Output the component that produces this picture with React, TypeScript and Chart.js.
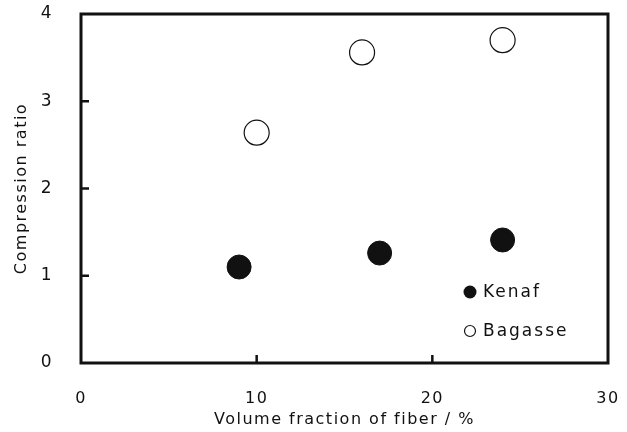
import React, { useEffect, useRef } from "react";
import { Chart, registerables } from "chart.js";

Chart.register(...registerables);

const kenafX = [9, 17, 24];
const kenafY = [1.1, 1.26, 1.41];
const bagasseX = [10, 16, 24];
const bagasseY = [2.64, 3.56, 3.7];
const seriesNames = ["Kenaf", "Bagasse"];
const xInnerTicks = [10, 20];
const yInnerTicks = [1, 2, 3];
const xTitle = "Volume fraction of fiber / %";
const yTitle = "Compression ratio";

const FONT = "'DejaVu Sans', sans-serif";

const framePlugin = {
  id: "frameAndLegend",
  beforeDraw(chart: any) {
    chart.ctx.letterSpacing = "1.5px";
  },
  afterDraw(chart: any) {
    const ctx = chart.ctx;
    const ca = chart.chartArea;
    const xs = chart.scales.x;
    const ys = chart.scales.y;
    ctx.save();
    ctx.strokeStyle = "#111";
    ctx.lineWidth = 3;
    ctx.strokeRect(ca.left, ca.top, ca.right - ca.left, ca.bottom - ca.top);
    ctx.lineWidth = 2.5;
    ctx.beginPath();
    for (const v of xInnerTicks) {
      const px = xs.getPixelForValue(v);
      ctx.moveTo(px, ca.bottom);
      ctx.lineTo(px, ca.bottom - 8);
    }
    for (const v of yInnerTicks) {
      const py = ys.getPixelForValue(v);
      ctx.moveTo(ca.left, py);
      ctx.lineTo(ca.left + 8, py);
    }
    ctx.stroke();

    // legend
    const mx = ca.right - 138;
    const rows = [ca.bottom - 71, ca.bottom - 32];
    ctx.font = `17px ${FONT}`;
    ctx.letterSpacing = "2px";
    ctx.textBaseline = "middle";
    ctx.textAlign = "left";
    ctx.fillStyle = "#111";
    chart.data.datasets.forEach((ds: any, i: number) => {
      const y = rows[i];
      ctx.beginPath();
      ctx.arc(mx, y, i === 0 ? 6.5 : 5.5, 0, Math.PI * 2);
      if (i === 0) {
        ctx.fillStyle = "#111";
        ctx.fill();
      } else {
        ctx.fillStyle = "#fff";
        ctx.fill();
        ctx.lineWidth = 1.2;
        ctx.strokeStyle = "#111";
        ctx.stroke();
      }
      ctx.fillStyle = "#111";
      ctx.fillText(ds.label, mx + 13, y + 1);
    });
    ctx.restore();
  },
};

export default function App() {
  const ref = useRef<HTMLCanvasElement>(null);
  useEffect(() => {
    if (!ref.current) return;
    const chart = new Chart(ref.current, {
      type: "scatter",
      data: {
        datasets: [
          {
            label: seriesNames[0],
            data: kenafX.map((x, i) => ({ x, y: kenafY[i] })),
            pointRadius: 12,
            pointBackgroundColor: "#111",
            pointBorderColor: "#111",
            pointBorderWidth: 1,
          },
          {
            label: seriesNames[1],
            data: bagasseX.map((x, i) => ({ x, y: bagasseY[i] })),
            pointRadius: 12.5,
            pointBackgroundColor: "#fff",
            pointBorderColor: "#111",
            pointBorderWidth: 1.2,
          },
        ],
      },
      options: {
        responsive: false,
        animation: false,
        layout: { autoPadding: false, padding: { left: 0, top: 14, right: 19, bottom: 0 } },
        plugins: { legend: { display: false }, tooltip: { enabled: false } },
        scales: {
          x: {
            type: "linear",
            min: 0,
            max: 30,
            ticks: { stepSize: 10, padding: 26, color: "#111", font: { family: FONT, size: 16 } },
            grid: { display: false, drawTicks: false },
            border: { display: false },
            title: {
              display: true,
              text: xTitle,
              color: "#111",
              font: { family: FONT, size: 16 },
              padding: { top: 0, bottom: 2.4 },
            },
            afterFit(scale: any) {
              scale.height = 69;
              scale.paddingLeft = 0;
              scale.paddingRight = 0;
              scale.paddingTop = 0;
              scale.paddingBottom = 0;
            },
          },
          y: {
            type: "linear",
            min: 0,
            max: 4,
            ticks: { stepSize: 1, padding: 28, color: "#111", font: { family: FONT, size: 17 } },
            grid: { display: false, drawTicks: false },
            border: { display: false },
            title: {
              display: true,
              text: yTitle,
              color: "#111",
              font: { family: FONT, size: 16 },
              padding: { top: 12.4, bottom: 0 },
            },
            afterFit(scale: any) {
              scale.width = 81;
              scale.paddingLeft = 0;
              scale.paddingRight = 0;
              scale.paddingTop = 0;
              scale.paddingBottom = 0;
            },
          },
        },
      },
      plugins: [framePlugin],
    });
    return () => chart.destroy();
  }, []);
  return (
    <div style={{ position: "fixed", left: 0, top: 0, width: 627, height: 432, background: "#fff" }}>
      <canvas ref={ref} width={627} height={432} />
    </div>
  );
}
